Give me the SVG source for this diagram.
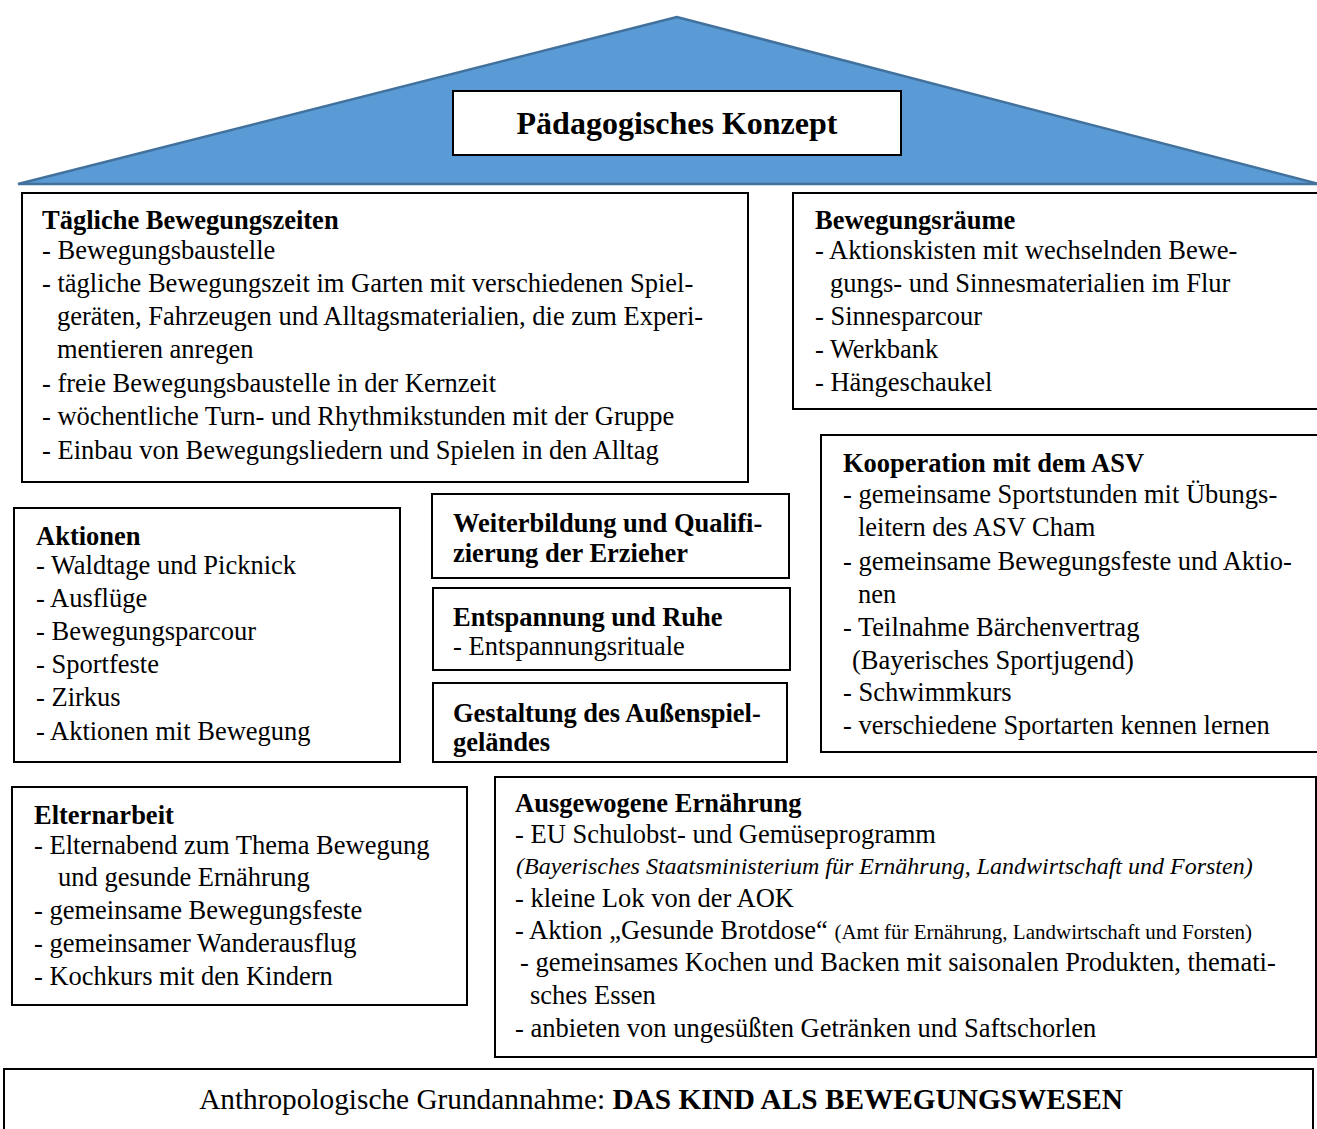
<svg xmlns="http://www.w3.org/2000/svg" width="1317" height="1129" viewBox="0 0 1317 1129">
<style>
.bx{fill:#fff;stroke:#000;stroke-width:2}
.t{font-family:"Liberation Serif","Times New Roman",serif;font-size:26.5px;fill:#000}
.h{font-weight:bold}
.it{font-style:italic;font-size:24px}
.sm{font-size:21px}
</style>
<rect width="1317" height="1129" fill="#fff"/>
<g id="roof">
<polygon points="677,17 18,184 1319,184" fill="#5B9BD5" stroke="#41719C" stroke-width="2.5" stroke-linejoin="miter"/>
</g>
<g id="title">
<rect class="bx" x="453" y="91" width="448" height="64"/>
<text class="t h" x="677" y="134" text-anchor="middle" style="font-size:32px">Pädagogisches Konzept</text>
</g>
<g id="taegliche">
<rect class="bx" x="22" y="193" width="726" height="289"/>
<text class="t h" x="42" y="229">Tägliche Bewegungszeiten</text>
<text class="t" x="42" y="259">- Bewegungsbaustelle</text>
<text class="t" x="42" y="292">- tägliche Bewegungszeit im Garten mit verschiedenen Spiel-</text>
<text class="t" x="57" y="325">geräten, Fahrzeugen und Alltagsmaterialien, die zum Experi-</text>
<text class="t" x="57" y="358">mentieren anregen</text>
<text class="t" x="42" y="392">- freie Bewegungsbaustelle in der Kernzeit</text>
<text class="t" x="42" y="425">- wöchentliche Turn- und Rhythmikstunden mit der Gruppe</text>
<text class="t" x="42" y="459">- Einbau von Bewegungsliedern und Spielen in den Alltag</text>
</g>
<g id="bewegungsraeume">
<rect class="bx" x="793" y="193" width="540" height="216"/>
<text class="t h" x="815" y="229">Bewegungsräume</text>
<text class="t" x="815" y="259">- Aktionskisten mit wechselnden Bewe-</text>
<text class="t" x="830" y="292">gungs- und Sinnesmaterialien im Flur</text>
<text class="t" x="815" y="325">- Sinnesparcour</text>
<text class="t" x="815" y="358">- Werkbank</text>
<text class="t" x="815" y="391">- Hängeschaukel</text>
</g>
<g id="kooperation">
<rect class="bx" x="821" y="435" width="512" height="317"/>
<text class="t h" x="843" y="472">Kooperation mit dem ASV</text>
<text class="t" x="843" y="503">- gemeinsame Sportstunden mit Übungs-</text>
<text class="t" x="858" y="536">leitern des ASV Cham</text>
<text class="t" x="843" y="570">- gemeinsame Bewegungsfeste und Aktio-</text>
<text class="t" x="858" y="603">nen</text>
<text class="t" x="843" y="636">- Teilnahme Bärchenvertrag</text>
<text class="t" x="852" y="669">(Bayerisches Sportjugend)</text>
<text class="t" x="843" y="701">- Schwimmkurs</text>
<text class="t" x="843" y="734">- verschiedene Sportarten kennen lernen</text>
</g>
<g id="aktionen">
<rect class="bx" x="14" y="508" width="386" height="254"/>
<text class="t h" x="36" y="545">Aktionen</text>
<text class="t" x="36" y="574">- Waldtage und Picknick</text>
<text class="t" x="36" y="607">- Ausflüge</text>
<text class="t" x="36" y="640">- Bewegungsparcour</text>
<text class="t" x="36" y="673">- Sportfeste</text>
<text class="t" x="36" y="706">- Zirkus</text>
<text class="t" x="36" y="740">- Aktionen mit Bewegung</text>
</g>
<g id="weiterbildung">
<rect class="bx" x="432" y="494" width="357" height="84"/>
<text class="t h" x="453" y="532">Weiterbildung und Qualifi-</text>
<text class="t h" x="453" y="562">zierung der Erzieher</text>
</g>
<g id="entspannung">
<rect class="bx" x="433" y="588" width="357" height="82"/>
<text class="t h" x="453" y="626">Entspannung und Ruhe</text>
<text class="t" x="453" y="655">- Entspannungsrituale</text>
</g>
<g id="gestaltung">
<rect class="bx" x="433" y="683" width="354" height="79"/>
<text class="t h" x="453" y="722">Gestaltung des Außenspiel-</text>
<text class="t h" x="453" y="751">geländes</text>
</g>
<g id="elternarbeit">
<rect class="bx" x="12" y="787" width="455" height="218"/>
<text class="t h" x="34" y="824">Elternarbeit</text>
<text class="t" x="34" y="854">- Elternabend zum Thema Bewegung</text>
<text class="t" x="58" y="886">und gesunde Ernährung</text>
<text class="t" x="34" y="919">- gemeinsame Bewegungsfeste</text>
<text class="t" x="34" y="952">- gemeinsamer Wanderausflug</text>
<text class="t" x="34" y="985">- Kochkurs mit den Kindern</text>
</g>
<g id="ernaehrung">
<rect class="bx" x="495" y="777" width="821" height="280"/>
<text class="t h" x="515" y="812">Ausgewogene Ernährung</text>
<text class="t" x="515" y="843">- EU Schulobst- und Gemüseprogramm</text>
<text class="t it" x="516" y="874">(Bayerisches Staatsministerium für Ernährung, Landwirtschaft und Forsten)</text>
<text class="t" x="515" y="907">- kleine Lok von der AOK</text>
<text class="t" x="515" y="939">- Aktion „Gesunde Brotdose“ <tspan class="sm">(Amt für Ernährung, Landwirtschaft und Forsten)</tspan></text>
<text class="t" x="520" y="971">- gemeinsames Kochen und Backen mit saisonalen Produkten, themati-</text>
<text class="t" x="530" y="1004">sches Essen</text>
<text class="t" x="515" y="1037">- anbieten von ungesüßten Getränken und Saftschorlen</text>
</g>
<g id="grundannahme">
<rect class="bx" x="4" y="1069" width="1309" height="80"/>
<text class="t" x="661" y="1109" text-anchor="middle" style="font-size:29.3px">Anthropologische Grundannahme: <tspan class="h">DAS KIND ALS BEWEGUNGSWESEN</tspan></text>
</g>
<g id="connectors"/>
</svg>
